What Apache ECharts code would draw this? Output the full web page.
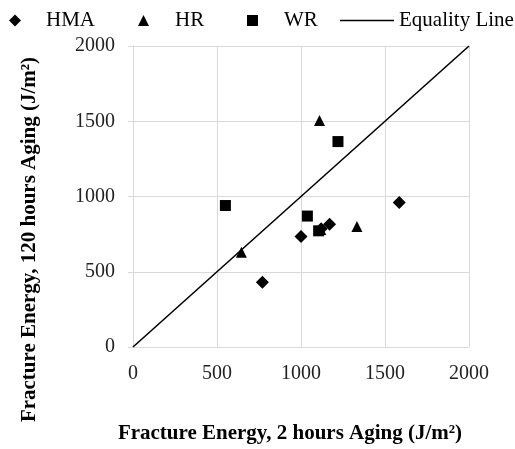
<!DOCTYPE html>
<html>
<head>
<meta charset="utf-8">
<script src="https://cdn.jsdelivr.net/npm/echarts@6/dist/echarts.min.js"></script>
<style>html,body{margin:0;padding:0;background:#fff;}#c{width:515px;height:449px;}</style>
</head>
<body>
<div id="c"></div>
<script>
const hmaX = [770, 1000, 1120, 1170, 1585];
const hmaY = [430, 735, 785, 815, 960];
const hrX = [645, 1110, 1118, 1333];
const hrY = [630, 1505, 780, 800];
const wrX = [550, 1038, 1105, 1220];
const wrY = [940, 870, 772, 1365];
const eqX = [0, 2000];
const eqY = [0, 2000];
const ticks = [0, 500, 1000, 1500, 2000];

const zip = (a, b) => a.map((v, i) => [v, b[i]]);
const font = 'Liberation Serif';
const chart = echarts.init(document.getElementById('c'), null, {renderer: 'canvas'});

function leg(name, icon, left, w, h, pad) {
  return {
    data: [{name: name, icon: icon}],
    left: left, top: 10, itemWidth: w, itemHeight: h, padding: 0,
    formatter: '{t|{name}}',
    textStyle: {
      fontFamily: font, fontSize: 21, color: '#000',
      rich: {t: {fontFamily: font, fontSize: 21, color: '#000', padding: [0, 0, 0, pad]}}
    }
  };
}

chart.setOption({
  animation: false,
  textStyle: {fontFamily: font},
  legend: [
    leg('HMA', 'diamond', 9, 12, 12, 20),
    leg('HR', 'triangle', 138, 11, 11, 21),
    leg('WR', 'rect', 247, 11, 11, 21),
    leg('Equality Line', 'path://M0,0L54,0L54,1.6L0,1.6Z', 340, 54, 2, 0)
  ],
  grid: {left: 133, right: 46, top: 46, bottom: 100, containLabel: false},
  xAxis: {
    type: 'value', min: ticks[0], max: ticks[ticks.length - 1], interval: 500,
    name: 'Fracture Energy, 2 hours Aging (J/m²)', nameLocation: 'middle', nameGap: 76,
    nameTextStyle: {fontFamily: font, fontSize: 21, fontWeight: 'bold', color: '#000', padding: [0, 22, 0, 0]},
    axisLine: {show: true, lineStyle: {color: '#d9d9d9', width: 1}},
    axisTick: {show: false},
    axisLabel: {fontFamily: font, fontSize: 20, color: '#222', margin: 17, formatter: v => String(v)},
    splitLine: {show: true, lineStyle: {color: '#d9d9d9', width: 1}}
  },
  yAxis: {
    type: 'value', min: ticks[0], max: ticks[ticks.length - 1], interval: 500,
    name: 'Fracture Energy, 120 hours Aging (J/m²)', nameLocation: 'middle', nameGap: 93,
    nameTextStyle: {fontFamily: font, fontSize: 21, fontWeight: 'bold', color: '#000', padding: [0, 86, 0, 0]},
    axisLine: {show: true, lineStyle: {color: '#d9d9d9', width: 1}},
    axisTick: {show: true, length: 5, lineStyle: {color: '#d9d9d9'}},
    axisLabel: {fontFamily: font, fontSize: 20, color: '#222', margin: 18, formatter: v => String(v)},
    splitLine: {show: true, lineStyle: {color: '#d9d9d9', width: 1}}
  },
  series: [
    {name: 'Equality Line', type: 'line', data: zip(eqX, eqY), symbol: 'none',
     lineStyle: {color: '#000', width: 1.6}, itemStyle: {color: '#000'}, z: 2},
    {name: 'HR', type: 'scatter', data: zip(hrX, hrY), symbol: 'triangle', symbolSize: 11,
     itemStyle: {color: '#000', opacity: 1}, z: 3},
    {name: 'HMA', type: 'scatter', data: zip(hmaX, hmaY), symbol: 'diamond', symbolSize: 13,
     itemStyle: {color: '#000', opacity: 1}, z: 3},
    {name: 'WR', type: 'scatter', data: zip(wrX, wrY), symbol: 'rect', symbolSize: 11,
     itemStyle: {color: '#000', opacity: 1}, z: 4}
  ]
});
</script>
</body>
</html>
